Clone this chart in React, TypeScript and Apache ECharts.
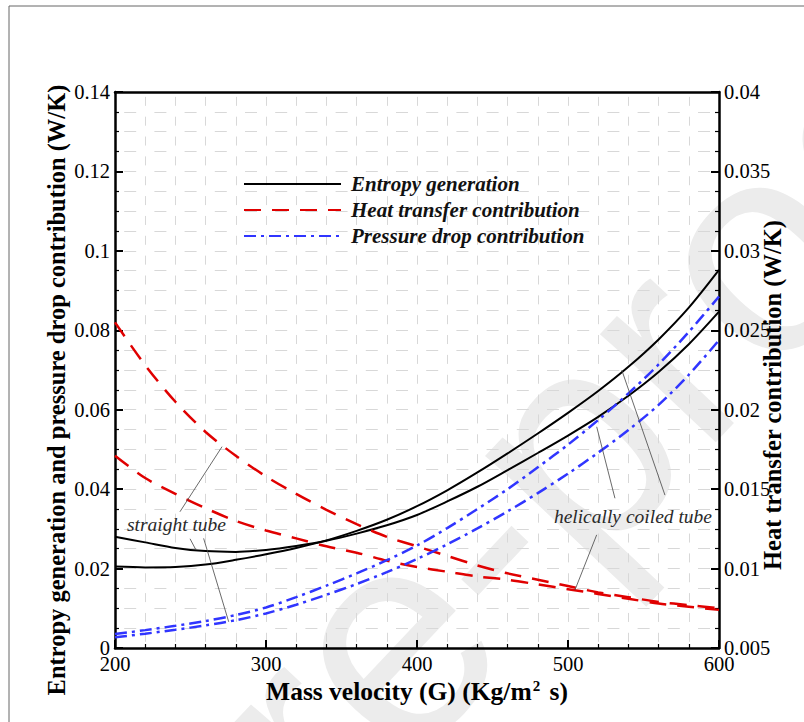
import React, { useEffect, useRef } from "react";
import * as echarts from "echarts";

// Mass velocity G (Kg/m2 s)
const massVelocity = [200, 220, 240, 260, 280, 300, 320, 340, 360, 380, 400, 420, 440, 460, 480, 500, 520, 540, 560, 580, 600];

// Entropy generation (W/K) - left axis
const entropyStraight = [0.0280, 0.0266, 0.0252, 0.0244, 0.0242, 0.0247, 0.0257, 0.0270, 0.0288, 0.0309, 0.0335, 0.0369, 0.0406, 0.0448, 0.0491, 0.0535, 0.0582, 0.0635, 0.0695, 0.0765, 0.0847];
const entropyHelical = [0.0205, 0.0203, 0.0204, 0.0210, 0.0222, 0.0236, 0.0252, 0.0271, 0.0295, 0.0323, 0.0357, 0.0397, 0.0442, 0.0490, 0.0540, 0.0592, 0.0647, 0.0708, 0.0777, 0.0857, 0.0952];

// Heat transfer contribution (W/K) - right axis
const heatStraight = [0.0255, 0.0228, 0.0205, 0.0186, 0.0171, 0.0158, 0.0147, 0.0137, 0.0128, 0.0120, 0.0114, 0.0108, 0.0102, 0.0097, 0.0093, 0.0089, 0.0085, 0.0082, 0.0079, 0.0077, 0.0075];
const heatHelical = [0.0171, 0.0157, 0.0147, 0.0138, 0.0130, 0.0124, 0.0119, 0.0114, 0.0110, 0.0105, 0.0101, 0.0098, 0.0095, 0.0093, 0.0090, 0.0087, 0.0084, 0.0081, 0.0078, 0.0076, 0.0074];

// Pressure drop contribution (W/K) - left axis
const pressureHelical = [0.0035, 0.0045, 0.0056, 0.0068, 0.0083, 0.0102, 0.0128, 0.0157, 0.0188, 0.0221, 0.0258, 0.0302, 0.0350, 0.0400, 0.0455, 0.0512, 0.0574, 0.0641, 0.0714, 0.0796, 0.0885];
const pressureStraight = [0.0027, 0.0036, 0.0046, 0.0057, 0.0070, 0.0087, 0.0109, 0.0134, 0.0161, 0.0191, 0.0224, 0.0261, 0.0301, 0.0344, 0.0390, 0.0439, 0.0492, 0.0549, 0.0612, 0.0688, 0.0775];

const legendNames = ["Entropy generation", "Heat transfer contribution", "Pressure drop contribution"];

// Annotations in data coordinates (x, left-axis y)
const annotationTexts = [
  { text: "straight tube", at: [240.7, 0.031] },
  { text: "helically coiled tube", at: [543, 0.033] },
];
const leaderLines = [
  [[243, 0.0343], [270.9, 0.0507]],
  [[249.7, 0.0275], [253.6, 0.0247]],
  [[258.7, 0.0276], [275.3, 0.0066]],
  [[531.1, 0.0377], [519, 0.0557]],
  [[564.2, 0.0385], [535.6, 0.0700]],
  [[519, 0.0285], [504.6, 0.0146]],
];

const SERIF = "'Liberation Serif', 'Times New Roman', serif";
const BLACK = "#000000";
const RED = "#e00000";
const BLUE = "#3035ff";

const pairs = (ys: number[]) => massVelocity.map((g, i) => [g, ys[i]]);

export default function App() {
  const ref = useRef<HTMLDivElement>(null);

  useEffect(() => {
    if (!ref.current) return;
    const chart = echarts.init(ref.current, null, { renderer: "svg" });

    const hGrid = { show: true, lineStyle: { color: "#d8d8d8", width: 1, type: [12, 18.2], dashOffset: 21 } };
    const vGrid = { show: true, lineStyle: { color: "#d8d8d8", width: 1, type: [9, 10.85], dashOffset: 14.5 } };

    const entropyLine = { color: BLACK, width: 2 };
    const heatLine = { color: RED, width: 2.5, type: [17, 11] };
    const pressLine = { color: BLUE, width: 2.5, type: [12, 5, 3, 5] };

    const mk = (name: string, ys: number[], yIdx: number, ls: any, color: string) => ({
      type: "line",
      name,
      data: pairs(ys),
      yAxisIndex: yIdx,
      smooth: 0.3,
      symbol: "none",
      lineStyle: ls,
      itemStyle: { color },
      z: 3,
    });

    const tickLabel = { fontFamily: SERIF, fontSize: 20.5, color: "#000", margin: 5 };

    chart.setOption({
      animation: false,
      backgroundColor: "#ffffff",
      grid: { left: 115, right: 85, top: 92, bottom: 74, containLabel: false, outerBoundsMode: "none" },
      legend: {
        data: legendNames,
        orient: "vertical",
        left: 238,
        top: 167,
        itemWidth: 97,
        itemHeight: 14,
        itemGap: 2,
        selectedMode: false,
        itemStyle: { opacity: 0 },
        textStyle: {
          fontFamily: SERIF,
          fontSize: 21,
          lineHeight: 24,
          fontWeight: "bold",
          fontStyle: "italic",
          color: "#111",
          padding: [0, 0, 0, 5],
        },
      },
      xAxis: [
        {
          type: "value",
          position: "bottom",
          min: 200,
          max: 600,
          interval: 100,
          name: "Mass velocity (G) (Kg/m{sup|2} s)",
          nameLocation: "middle",
          nameGap: 30,
          nameMoveOverlap: false,
          nameTextStyle: {
            fontFamily: SERIF,
            fontSize: 25.5,
            fontWeight: "bold",
            color: "#000",
            rich: {
              sup: { fontFamily: SERIF, fontSize: 15, fontWeight: "bold", color: "#000", verticalAlign: "top", padding: [0, 3, 10, 1] },
            },
          },
          axisLine: { show: true, onZero: false, lineStyle: { color: BLACK, width: 2.5 } },
          axisTick: { show: true, inside: true, length: 8, lineStyle: { color: BLACK, width: 2 } },
          minorTick: { show: true, splitNumber: 5, length: 4, lineStyle: { color: BLACK, width: 1.2 } },
          axisLabel: tickLabel,
          splitLine: vGrid,
          minorSplitLine: vGrid,
        },
        {
          type: "value",
          position: "top",
          min: 200,
          max: 600,
          axisLine: { show: true, onZero: false, lineStyle: { color: BLACK, width: 2.5 } },
          axisTick: { show: false },
          axisLabel: { show: false },
          splitLine: { show: false },
        },
      ],
      yAxis: [
        {
          type: "value",
          position: "left",
          min: 0,
          max: 0.14,
          interval: 0.02,
          name: "Entropy generation and pressure drop contribution (W/K)",
          nameLocation: "middle",
          nameRotate: 90,
          nameGap: 46,
          nameMoveOverlap: false,
          nameTextStyle: { fontFamily: SERIF, fontSize: 24.5, fontWeight: "bold", color: "#000", padding: [0, 40, 0, 0] },
          axisLine: { show: true, onZero: false, lineStyle: { color: BLACK, width: 2.5 } },
          axisTick: { show: true, inside: true, length: 8, lineStyle: { color: BLACK, width: 2 } },
          minorTick: { show: true, splitNumber: 4, length: 4, lineStyle: { color: BLACK, width: 1.2 } },
          axisLabel: tickLabel,
          splitLine: hGrid,
          minorSplitLine: hGrid,
        },
        {
          type: "value",
          position: "right",
          min: 0.005,
          max: 0.04,
          interval: 0.005,
          name: "Heat transfer contribution (W/K)",
          nameLocation: "middle",
          nameRotate: 90,
          nameGap: 41,
          nameMoveOverlap: false,
          nameTextStyle: { fontFamily: SERIF, fontSize: 24.5, fontWeight: "bold", color: "#000", padding: [0, 50, 0, 0] },
          axisLine: { show: true, onZero: false, lineStyle: { color: BLACK, width: 2.5 } },
          axisTick: { show: true, inside: true, length: 8, lineStyle: { color: BLACK, width: 2 } },
          minorTick: { show: true, splitNumber: 4, length: 4, lineStyle: { color: BLACK, width: 1.2 } },
          axisLabel: tickLabel,
          splitLine: { show: false },
        },
      ],
      series: [
        mk(legendNames[0], entropyStraight, 0, entropyLine, BLACK),
        mk(legendNames[0], entropyHelical, 0, entropyLine, BLACK),
        mk(legendNames[1], heatStraight, 1, heatLine, RED),
        mk(legendNames[1], heatHelical, 1, heatLine, RED),
        mk(legendNames[2], pressureStraight, 0, pressLine, BLUE),
        mk(legendNames[2], pressureHelical, 0, pressLine, BLUE),
      ],
    });

    const toPx = (p: number[]) => chart.convertToPixel({ xAxisIndex: 0, yAxisIndex: 0 }, p) as number[];

    const WM = 300;
    const graphics: any[] = [
      // page frame
      { type: "line", shape: { x1: 9, y1: 6, x2: 9, y2: 722 }, style: { stroke: "#666", lineWidth: 1 }, z: 1, silent: true },
      { type: "line", shape: { x1: 9, y1: 6, x2: 804, y2: 6 }, style: { stroke: "#666", lineWidth: 1 }, z: 1, silent: true },
      // watermark
      {
        type: "group",
        x: 405,
        y: 660,
        rotation: 0.815,
        silent: true,
        z: -10,
        children: [
          {
            type: "text",
            x: -4.835 * WM,
            y: -0.09 * WM,
            z: -10,
            style: {
              text: "Journal Pre-proof",
              font: `${WM}px 'Liberation Sans', Arial, sans-serif`,
              fill: "#ececec",
              textAlign: "left",
              textVerticalAlign: "middle",
            },
          },
        ],
      },
    ];

    leaderLines.forEach(([a, b]) => {
      const p1 = toPx(a);
      const p2 = toPx(b);
      graphics.push({
        type: "line",
        shape: { x1: p1[0], y1: p1[1], x2: p2[0], y2: p2[1] },
        style: { stroke: "#444", lineWidth: 0.8 },
        z: 4,
        silent: true,
      });
    });
    annotationTexts.forEach((t) => {
      const p = toPx(t.at);
      graphics.push({
        type: "text",
        x: p[0],
        y: p[1],
        z: 4,
        silent: true,
        style: {
          text: t.text,
          font: `italic 19.5px ${SERIF}`,
          fill: "#2a2a2a",
          textAlign: "center",
          textVerticalAlign: "middle",
        },
      });
    });

    chart.setOption({ graphic: graphics });

    return () => chart.dispose();
  }, []);

  return <div ref={ref} style={{ position: "absolute", left: 0, top: 0, width: 804, height: 722 }} />;
}
